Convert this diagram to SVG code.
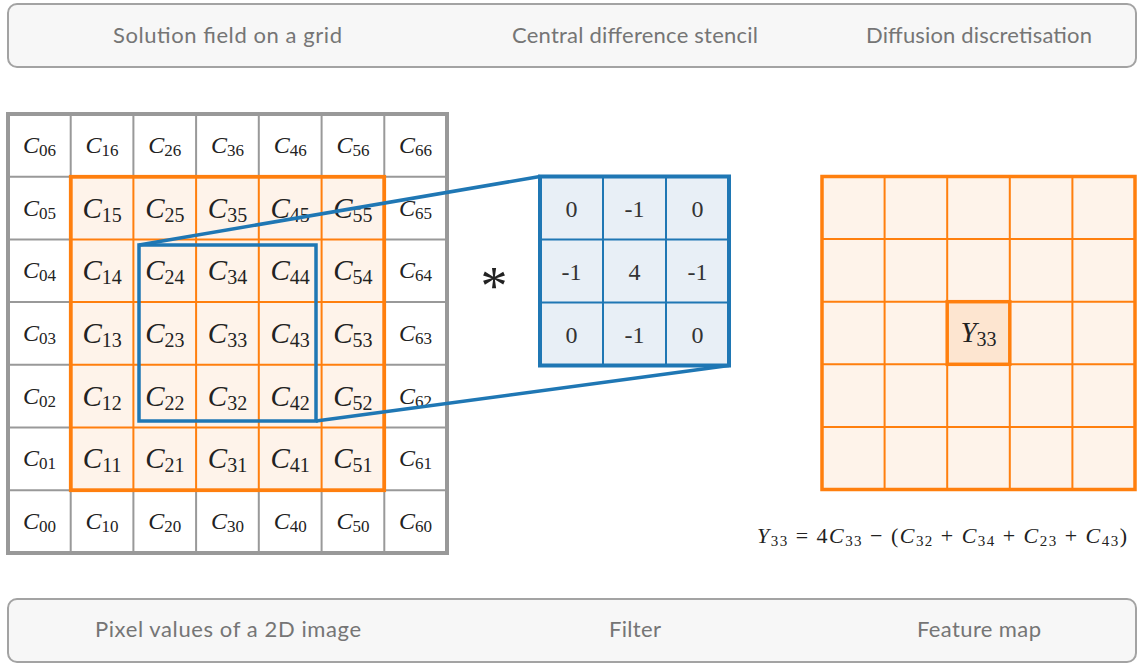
<svg xmlns="http://www.w3.org/2000/svg" width="1137" height="663" viewBox="0 0 1137 663">
<style>
.banner{fill:#f7f7f7;stroke:#a3a3a3;stroke-width:2}
.bt{font-family:Lato,"Open Sans",sans-serif;font-size:22px;fill:#757575;text-anchor:middle}
.gl{stroke:#999;stroke-width:2;fill:none}
.go{stroke:#999;stroke-width:4;fill:none}
.ol{stroke:#ff7f0e;stroke-width:2;fill:none}
.oo{stroke:#ff7f0e;stroke-width:3.5;fill:#fef3ea}
.bl{stroke:#1f77b4;stroke-width:2;fill:none}
.bo{stroke:#1f77b4;stroke-width:4;fill:none}
.conn{stroke:#1f77b4;stroke-width:3.5;fill:none}
.c{font-family:"Liberation Serif","DejaVu Serif",serif;font-size:24px;fill:#222;text-anchor:middle}
.ci{font-family:"Liberation Serif","DejaVu Serif",serif;font-size:29px;fill:#222;text-anchor:middle}
.m{font-style:italic}
.c .s{font-size:17px}
.ci .s{font-size:20px}
.n{font-family:"Liberation Serif","DejaVu Serif",serif;font-size:24px;fill:#333;text-anchor:middle}
.f{font-family:"Liberation Serif","DejaVu Serif",serif;font-size:22px;fill:#222;text-anchor:middle}
.f .s{font-size:15px}
</style>

<g id="banner-top">
<rect class="banner" x="8" y="4" width="1128" height="63" rx="9"/>
<text class="bt" x="227.5" y="43" textLength="229">Solution field on a grid</text>
<text class="bt" x="635" y="43" textLength="246">Central difference stencil</text>
<text class="bt" x="979" y="43" textLength="226">Diffusion discretisation</text>
</g>

<g id="banner-bottom">
<rect class="banner" x="8" y="599" width="1128" height="63" rx="9"/>
<text class="bt" x="228" y="637" textLength="266">Pixel values of a 2D image</text>
<text class="bt" x="635" y="637" textLength="52">Filter</text>
<text class="bt" x="979" y="637" textLength="124">Feature map</text>
</g>

<g id="grid">
<rect x="8" y="114" width="439" height="439" fill="#fff"/>
<path class="gl" d="M70.7 114V553M133.4 114V553M196.1 114V553M258.8 114V553M321.6 114V553M384.3 114V553M8 176.7H447M8 239.4H447M8 302.1H447M8 364.8H447M8 427.6H447M8 490.3H447"/>
<rect class="go" x="8" y="114" width="439" height="439"/>
<rect class="oo" x="70.7" y="176.7" width="313.6" height="313.6"/>
<path class="ol" d="M133.4 176.7V490.3M196.1 176.7V490.3M258.8 176.7V490.3M321.6 176.7V490.3M70.7 239.4H384.3M70.7 302.1H384.3M70.7 364.8H384.3M70.7 427.6H384.3"/>
<rect x="70.7" y="176.7" width="313.6" height="313.6" fill="none" stroke="#ff7f0e" stroke-width="3.5"/>
<!-- row 6 -->
<text class="c" x="39.4" y="153"><tspan class="m">C</tspan><tspan class="s" dy="3">06</tspan></text>
<text class="c" x="102.1" y="153"><tspan class="m">C</tspan><tspan class="s" dy="3">16</tspan></text>
<text class="c" x="164.8" y="153"><tspan class="m">C</tspan><tspan class="s" dy="3">26</tspan></text>
<text class="c" x="227.5" y="153"><tspan class="m">C</tspan><tspan class="s" dy="3">36</tspan></text>
<text class="c" x="290.2" y="153"><tspan class="m">C</tspan><tspan class="s" dy="3">46</tspan></text>
<text class="c" x="352.9" y="153"><tspan class="m">C</tspan><tspan class="s" dy="3">56</tspan></text>
<text class="c" x="415.6" y="153"><tspan class="m">C</tspan><tspan class="s" dy="3">66</tspan></text>
<!-- row 5 -->
<text class="c" x="39.4" y="215.6"><tspan class="m">C</tspan><tspan class="s" dy="3">05</tspan></text>
<text class="ci" x="102.1" y="217.6"><tspan class="m">C</tspan><tspan class="s" dy="4">15</tspan></text>
<text class="ci" x="164.8" y="217.6"><tspan class="m">C</tspan><tspan class="s" dy="4">25</tspan></text>
<text class="ci" x="227.5" y="217.6"><tspan class="m">C</tspan><tspan class="s" dy="4">35</tspan></text>
<text class="ci" x="290.2" y="217.6"><tspan class="m">C</tspan><tspan class="s" dy="4">45</tspan></text>
<text class="ci" x="352.9" y="217.6"><tspan class="m">C</tspan><tspan class="s" dy="4">55</tspan></text>
<text class="c" x="415.6" y="215.6"><tspan class="m">C</tspan><tspan class="s" dy="3">65</tspan></text>
<!-- row 4 -->
<text class="c" x="39.4" y="278.3"><tspan class="m">C</tspan><tspan class="s" dy="3">04</tspan></text>
<text class="ci" x="102.1" y="280.3"><tspan class="m">C</tspan><tspan class="s" dy="4">14</tspan></text>
<text class="ci" x="164.8" y="280.3"><tspan class="m">C</tspan><tspan class="s" dy="4">24</tspan></text>
<text class="ci" x="227.5" y="280.3"><tspan class="m">C</tspan><tspan class="s" dy="4">34</tspan></text>
<text class="ci" x="290.2" y="280.3"><tspan class="m">C</tspan><tspan class="s" dy="4">44</tspan></text>
<text class="ci" x="352.9" y="280.3"><tspan class="m">C</tspan><tspan class="s" dy="4">54</tspan></text>
<text class="c" x="415.6" y="278.3"><tspan class="m">C</tspan><tspan class="s" dy="3">64</tspan></text>
<!-- row 3 -->
<text class="c" x="39.4" y="341"><tspan class="m">C</tspan><tspan class="s" dy="3">03</tspan></text>
<text class="ci" x="102.1" y="343"><tspan class="m">C</tspan><tspan class="s" dy="4">13</tspan></text>
<text class="ci" x="164.8" y="343"><tspan class="m">C</tspan><tspan class="s" dy="4">23</tspan></text>
<text class="ci" x="227.5" y="343"><tspan class="m">C</tspan><tspan class="s" dy="4">33</tspan></text>
<text class="ci" x="290.2" y="343"><tspan class="m">C</tspan><tspan class="s" dy="4">43</tspan></text>
<text class="ci" x="352.9" y="343"><tspan class="m">C</tspan><tspan class="s" dy="4">53</tspan></text>
<text class="c" x="415.6" y="341"><tspan class="m">C</tspan><tspan class="s" dy="3">63</tspan></text>
<!-- row 2 -->
<text class="c" x="39.4" y="403.7"><tspan class="m">C</tspan><tspan class="s" dy="3">02</tspan></text>
<text class="ci" x="102.1" y="405.7"><tspan class="m">C</tspan><tspan class="s" dy="4">12</tspan></text>
<text class="ci" x="164.8" y="405.7"><tspan class="m">C</tspan><tspan class="s" dy="4">22</tspan></text>
<text class="ci" x="227.5" y="405.7"><tspan class="m">C</tspan><tspan class="s" dy="4">32</tspan></text>
<text class="ci" x="290.2" y="405.7"><tspan class="m">C</tspan><tspan class="s" dy="4">42</tspan></text>
<text class="ci" x="352.9" y="405.7"><tspan class="m">C</tspan><tspan class="s" dy="4">52</tspan></text>
<text class="c" x="415.6" y="403.7"><tspan class="m">C</tspan><tspan class="s" dy="3">62</tspan></text>
<!-- row 1 -->
<text class="c" x="39.4" y="466.4"><tspan class="m">C</tspan><tspan class="s" dy="3">01</tspan></text>
<text class="ci" x="102.1" y="468.4"><tspan class="m">C</tspan><tspan class="s" dy="4">11</tspan></text>
<text class="ci" x="164.8" y="468.4"><tspan class="m">C</tspan><tspan class="s" dy="4">21</tspan></text>
<text class="ci" x="227.5" y="468.4"><tspan class="m">C</tspan><tspan class="s" dy="4">31</tspan></text>
<text class="ci" x="290.2" y="468.4"><tspan class="m">C</tspan><tspan class="s" dy="4">41</tspan></text>
<text class="ci" x="352.9" y="468.4"><tspan class="m">C</tspan><tspan class="s" dy="4">51</tspan></text>
<text class="c" x="415.6" y="466.4"><tspan class="m">C</tspan><tspan class="s" dy="3">61</tspan></text>
<!-- row 0 -->
<text class="c" x="39.4" y="529.1"><tspan class="m">C</tspan><tspan class="s" dy="3">00</tspan></text>
<text class="c" x="102.1" y="529.1"><tspan class="m">C</tspan><tspan class="s" dy="3">10</tspan></text>
<text class="c" x="164.8" y="529.1"><tspan class="m">C</tspan><tspan class="s" dy="3">20</tspan></text>
<text class="c" x="227.5" y="529.1"><tspan class="m">C</tspan><tspan class="s" dy="3">30</tspan></text>
<text class="c" x="290.2" y="529.1"><tspan class="m">C</tspan><tspan class="s" dy="3">40</tspan></text>
<text class="c" x="352.9" y="529.1"><tspan class="m">C</tspan><tspan class="s" dy="3">50</tspan></text>
<text class="c" x="415.6" y="529.1"><tspan class="m">C</tspan><tspan class="s" dy="3">60</tspan></text>
</g>

<g id="window">
<rect x="139" y="245" width="177" height="176" fill="none" stroke="#1f77b4" stroke-width="3.5"/>
</g>

<g id="connectors">
<line class="conn" x1="139" y1="245" x2="540" y2="176.5"/>
<line class="conn" x1="316" y1="421" x2="729" y2="365.5"/>
</g>

<g id="operator">
<text x="494" y="304" font-family="'Liberation Serif',serif" font-size="54" fill="#222" text-anchor="middle">*</text>
</g>

<g id="stencil">
<rect x="540" y="176.5" width="189" height="189" fill="#e8eff6"/>
<path class="bl" d="M603 176.5V365.5M666 176.5V365.5M540 239.5H729M540 302.5H729"/>
<rect class="bo" x="540" y="176.5" width="189" height="189"/>
<text class="n" x="571.5" y="216.5">0</text>
<text class="n" x="634.5" y="216.5">-1</text>
<text class="n" x="697.5" y="216.5">0</text>
<text class="n" x="571.5" y="279.5">-1</text>
<text class="n" x="634.5" y="279.5">4</text>
<text class="n" x="697.5" y="279.5">-1</text>
<text class="n" x="571.5" y="342.5">0</text>
<text class="n" x="634.5" y="342.5">-1</text>
<text class="n" x="697.5" y="342.5">0</text>
</g>

<g id="feature-map">
<rect x="822" y="176.5" width="313" height="313" fill="#fef3ea"/>
<path class="ol" d="M884.6 176.5V489.5M947.2 176.5V489.5M1009.8 176.5V489.5M1072.4 176.5V489.5M822 239.1H1135M822 301.7H1135M822 364.3H1135M822 426.9H1135"/>
<rect x="822" y="176.5" width="313" height="313" fill="none" stroke="#ff7f0e" stroke-width="3.5"/>
<rect x="947.2" y="301.7" width="62.6" height="62.6" fill="#fde5d0" stroke="#ff7f0e" stroke-width="3.5"/>
<text class="ci" x="978.5" y="341.5"><tspan class="m">Y</tspan><tspan class="s" dy="4">33</tspan></text>
</g>

<g id="formula">
<text class="f" x="942" y="543" textLength="370"><tspan class="m">Y</tspan><tspan class="s" dy="3">33</tspan><tspan dy="-3"> = 4</tspan><tspan class="m">C</tspan><tspan class="s" dy="3">33</tspan><tspan dy="-3"> − (</tspan><tspan class="m">C</tspan><tspan class="s" dy="3">32</tspan><tspan dy="-3"> + </tspan><tspan class="m">C</tspan><tspan class="s" dy="3">34</tspan><tspan dy="-3"> + </tspan><tspan class="m">C</tspan><tspan class="s" dy="3">23</tspan><tspan dy="-3"> + </tspan><tspan class="m">C</tspan><tspan class="s" dy="3">43</tspan><tspan dy="-3">)</tspan></text>
</g>
</svg>
